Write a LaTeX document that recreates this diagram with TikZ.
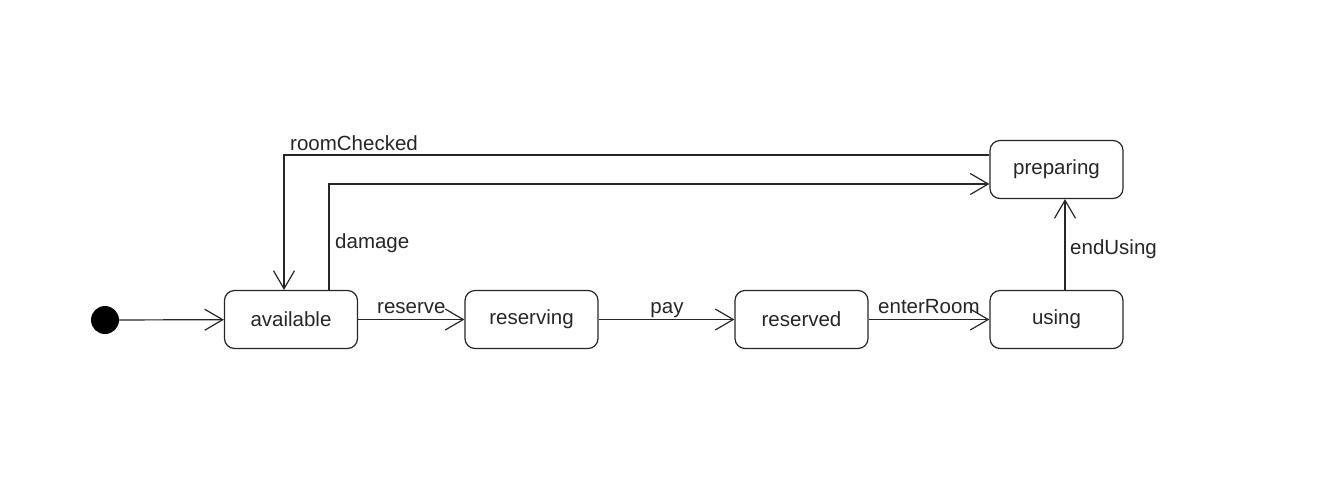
\documentclass[tikz,border=0pt]{standalone}
\usepackage{fontspec}
\setmainfont{Liberation Sans}
\usetikzlibrary{arrows.meta,positioning}
\begin{document}
\begin{tikzpicture}[x=1pt,y=-1pt,
  every node/.style={font=\fontsize{20.5}{24}\selectfont, text=black!85},
  state/.style={draw=black!85, line width=1.2pt, rounded corners=10pt, minimum width=133pt, minimum height=58pt, inner sep=0pt},
  arr/.style={draw=black!85, line width=1.2pt, -{Straight Barb[length=18pt,width=21pt,line width=1.2pt]}},
  lbl/.style={anchor=base west, inner sep=0pt}]
\useasboundingbox (0,0) rectangle (1329,482);
\node[circle, fill=black, minimum size=28pt, inner sep=0pt] (init) at (105,320) {};
\node[state] (available) at (291,319.5) {available};
\node[state] (reserving) at (531.5,319.5) {reserving};
\node[state] (reserved) at (801.5,319.5) {reserved};
\node[state] (using) at (1056.5,319.5) {using};
\node[state] (preparing) at (1056.5,169.5) {preparing};
\draw[arr] (init) -- (available);
\draw[arr] (available) -- (reserving);
\draw[arr] (reserving) -- (reserved);
\draw[arr] (reserved) -- (using);
\draw[arr] ([xshift=8.5pt]using.north) -- ([xshift=8.5pt]preparing.south);
\draw[arr] ([yshift=14.5pt]preparing.west) -| ([xshift=-7pt]available.north);
\draw[arr] ([xshift=38pt]available.north) |- ([yshift=-14.5pt]preparing.west);
\node[lbl] (l1) at (377,313) {reserve};
\node[anchor=base, inner sep=0pt] (l2) at (667,313) {pay};
\node[lbl] (l3) at (878,313) {enterRoom};
\node[lbl] (l4) at (1070,254) {endUsing};
\node[lbl] (l5) at (290,150) {roomChecked};
\node[lbl] (l6) at (335,248) {damage};
\end{tikzpicture}
\end{document}
